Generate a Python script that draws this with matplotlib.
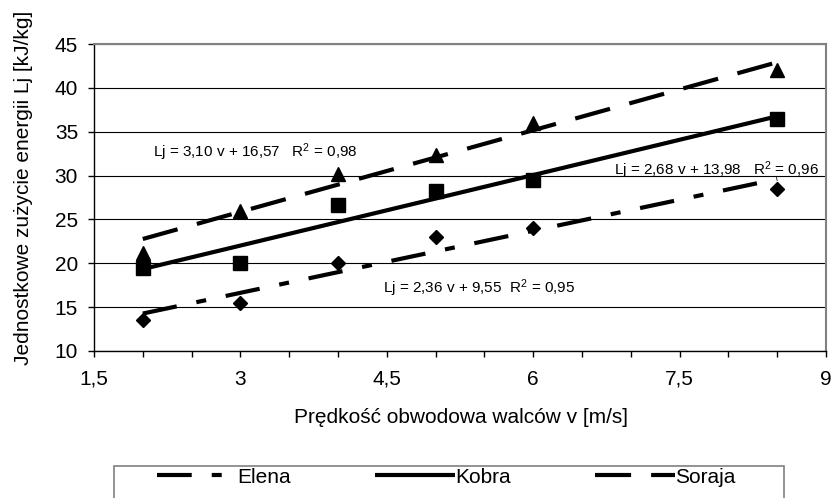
import matplotlib
matplotlib.use('Agg')
import matplotlib.pyplot as plt
from matplotlib.lines import Line2D
from matplotlib.patches import Rectangle
from matplotlib.ticker import MultipleLocator, FixedLocator, FuncFormatter
import numpy as np

plt.rcParams['font.family'] = ['Liberation Sans', 'DejaVu Sans']
plt.rcParams['lines.scale_dashes'] = False
plt.rcParams['mathtext.default'] = 'regular'
plt.rcParams['mathtext.fontset'] = 'custom'
plt.rcParams['mathtext.rm'] = 'Liberation Sans'

# ---- data ----
v = [2, 3, 4, 5, 6, 8.5]
elena = [13.5, 15.5, 20.0, 23.0, 24.0, 28.5]
kobra = [19.5, 20.0, 26.7, 28.2, 29.5, 36.5]
soraja = [21.2, 26.0, 30.2, 32.3, 36.0, 42.0]
series_names = ['Elena', 'Kobra', 'Soraja']
slopes = [2.36, 2.68, 3.10]
intercepts = [9.55, 13.98, 16.57]
r2_values = [0.95, 0.96, 0.98]
x_ticks = [1.5, 3, 4.5, 6, 7.5, 9]
y_ticks = [10, 15, 20, 25, 30, 35, 40, 45]
x_label = 'Prędkość obwodowa walców v [m/s]'
y_label = 'Jednostkowe zużycie energii Lj [kJ/kg]'

W, H = 836, 498
fig = plt.figure(figsize=(W / 100, H / 100), dpi=100)
ax = fig.add_axes([94 / W, 1 - 351 / H, 732 / W, 307 / H])

FS = 15

def comma(x, digits=2):
    return f'{x:.{digits}f}'.replace('.', ',')

def tick_fmt(x, pos):
    s = f'{x:g}'
    return s.replace('.', ',')

ax.set_xlim(1.5, 9)
ax.set_ylim(10, 45)
ax.xaxis.set_major_locator(FixedLocator(x_ticks))
ax.xaxis.set_minor_locator(MultipleLocator(0.5))
ax.xaxis.set_major_formatter(FuncFormatter(tick_fmt))
ax.yaxis.set_major_locator(FixedLocator(y_ticks))
ax.yaxis.set_major_formatter(FuncFormatter(tick_fmt))
ax.tick_params(axis='both', which='both', direction='out', length=4.5, width=1.0,
               labelsize=FS, color='black')
ax.tick_params(axis='x', which='both', pad=9)
ax.tick_params(axis='y', which='both', pad=7)
ax.grid(axis='y', color='black', linewidth=0.8)
for side in ['top', 'right']:
    ax.spines[side].set_color('#808080')
    ax.spines[side].set_linewidth(1.5)
for side in ['left', 'bottom']:
    ax.spines[side].set_color('black')
    ax.spines[side].set_linewidth(1.0)

styles = {
    'Elena': dict(dashes=(25, 14.4, 7.2, 14.4)),
    'Kobra': dict(linestyle='-'),
    'Soraja': dict(dashes=(26, 14.4)),
}
markers = {'Elena': ('D', 7.6), 'Kobra': ('s', 9.6), 'Soraja': ('^', 10.5)}
values = {'Elena': elena, 'Kobra': kobra, 'Soraja': soraja}

xs = np.array([v[0], v[-1]])
for name, a, b in zip(series_names, slopes, intercepts):
    ax.plot(xs, a * xs + b, color='black', lw=3, solid_capstyle='butt',
            dash_capstyle='butt', zorder=3, **styles[name])
for name in series_names:
    m, ms = markers[name]
    ax.plot(v, values[name], linestyle='none', marker=m, markersize=ms,
            color='black', zorder=4)

labels = {}
spaces = {'Elena': '  ', 'Kobra': '   ', 'Soraja': '   '}
for name, a, b, r2 in zip(series_names, slopes, intercepts, r2_values):
    labels[name] = f'Lj = {comma(a)} v + {comma(b)}{spaces[name]}R$^2$ = {comma(r2)}'

ax.text(4.46, 16.65, labels['Elena'], fontsize=11, ha='left', va='baseline')
ax.text(6.83, 30.12, labels['Kobra'], fontsize=11, ha='left', va='baseline')
ax.text(2.105, 32.08, labels['Soraja'], fontsize=11, ha='left', va='baseline')

fig.text(461 / W, 1 - 417 / H, x_label, fontsize=FS, ha='center', va='center')
fig.text(24 / W, 1 - 188 / H, y_label, fontsize=FS, ha='center', va='center',
         rotation=90)

# legend
handles = [Line2D([], [], color='black', lw=3, solid_capstyle='butt',
                  dash_capstyle='butt', **styles[n]) for n in series_names]
em = FS * 100 / 72
fig.legend(handles, series_names, loc='center left',
           bbox_to_anchor=(157 / W, 1 - 477 / H), ncol=3, frameon=False,
           handlelength=80 / em, handletextpad=0.02, columnspacing=84 / em,
           borderpad=0, borderaxespad=0, fontsize=FS)
fig.patches.append(Rectangle((114 / W, -0.1), (784 - 114) / W, (498 - 466) / H + 0.1,
                             transform=fig.transFigure, fill=False,
                             edgecolor='#808080', linewidth=1.2))

fig.savefig('out.png', dpi=100)
